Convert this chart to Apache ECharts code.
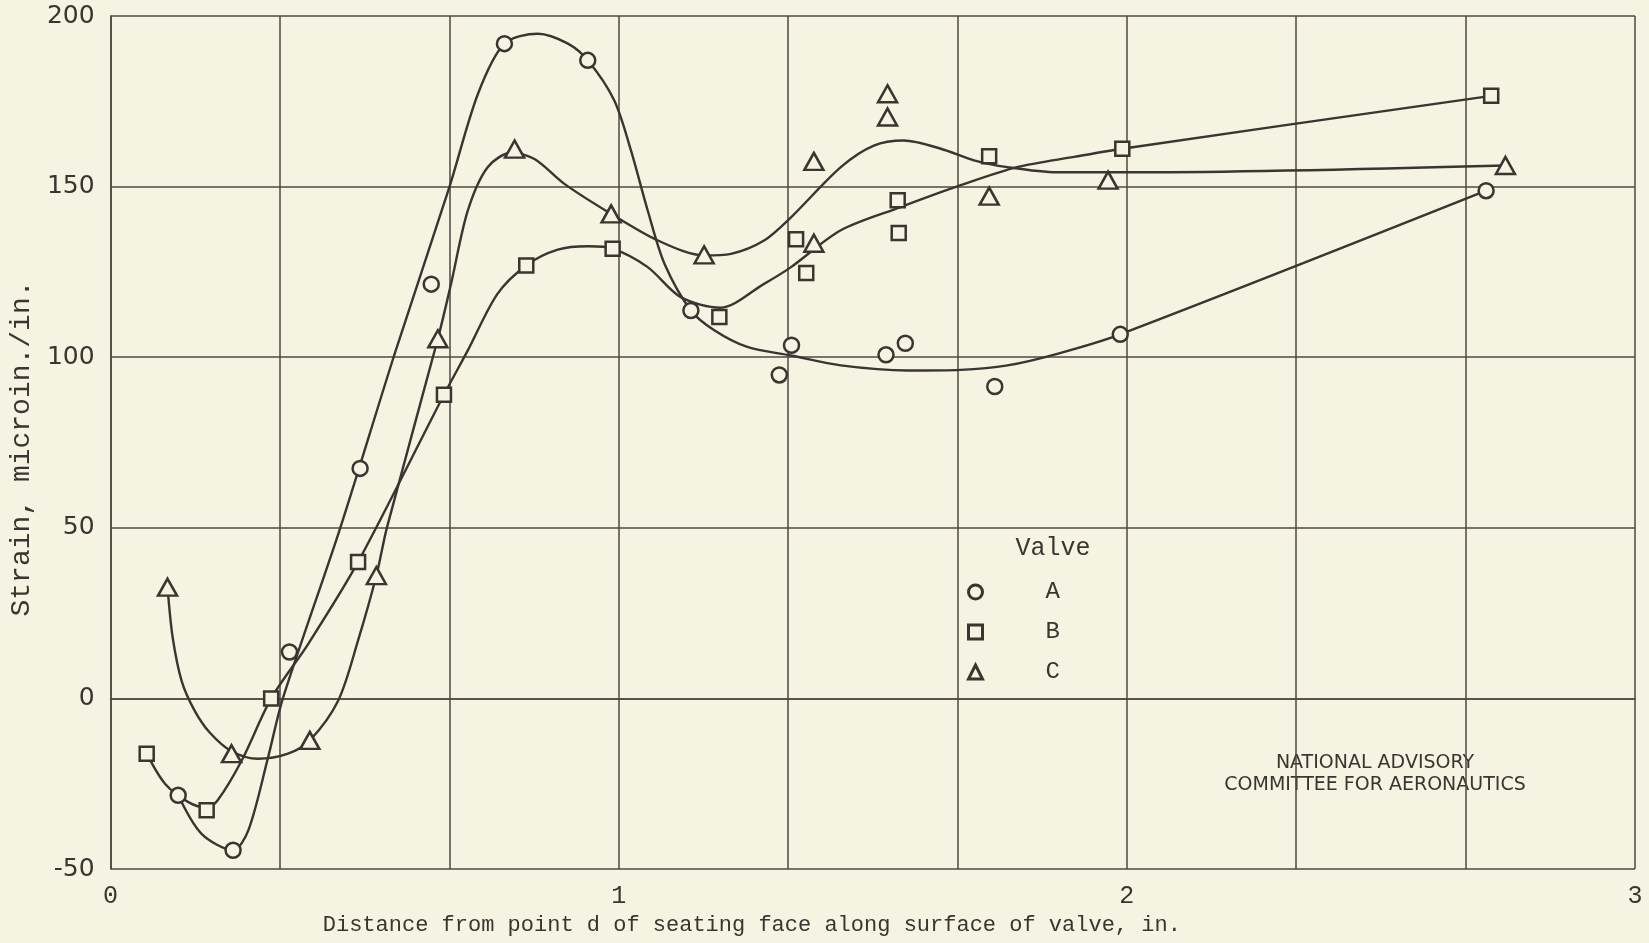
<!DOCTYPE html>
<html>
<head>
<meta charset="utf-8">
<script src="https://cdn.jsdelivr.net/npm/echarts@6/dist/echarts.min.js"></script>
<style>
html,body{margin:0;padding:0;background:#f5f3e2;}
#chart{width:1649px;height:943px;}
</style>
</head>
<body>
<div id="chart"></div>
<script>
// ---- data ----
const xTicks = [0, 1, 2, 3];
const yTicks = [-50, 0, 50, 100, 150, 200];
const valveNames = ['A', 'B', 'C'];
const xTitle = 'Distance from point d of seating face along surface of valve, in.';
const yTitle = 'Strain, microin./in.';

// measured points [distance in., strain microin./in.]
const valveA = [[0.133,-28.4],[0.241,-44.5],[0.352,13.6],[0.491,67.4],[0.631,121.4],[0.775,191.9],[0.939,187.0],[1.142,113.7],[1.316,94.8],[1.340,103.5],[1.526,100.7],[1.564,104.1],[1.740,91.4],[1.987,106.7],[2.707,148.8]];
const valveB = [[0.071,-16.2],[0.189,-32.8],[0.316,0.0],[0.487,40.0],[0.656,89.0],[0.818,126.9],[0.988,131.8],[1.198,111.8],[1.349,134.6],[1.369,124.7],[1.549,146.0],[1.551,136.4],[1.729,158.9],[1.991,161.1],[2.717,176.6]];
const valveC = [[0.112,32.6],[0.238,-16.2],[0.392,-12.3],[0.523,36.0],[0.644,105.4],[0.795,161.0],[0.985,142.0],[1.168,130.0],[1.384,157.4],[1.384,133.4],[1.529,177.2],[1.529,170.4],[1.729,147.2],[1.963,151.9],[2.745,156.2]];

// faired curves
const curveA = [[0.133,-28.4],[0.179,-39.7],[0.241,-44.5],[0.271,-38.7],[0.31,-17.2],[0.339,0],[0.452,50],[0.558,100.5],[0.667,150],[0.723,177.2],[0.775,191.9],[0.841,194.8],[0.9,191.9],[0.939,187],[0.991,175.3],[1.024,160.6],[1.057,143],[1.09,127.4],[1.142,113.7],[1.188,107.9],[1.253,103],[1.339,100.5],[1.437,97.6],[1.568,96.1],[1.673,96.3],[1.765,97.6],[1.863,101],[1.987,106.7],[2.707,148.8]];
const curveB = [[0.071,-16.2],[0.107,-25],[0.153,-30.4],[0.189,-32],[0.21,-30],[0.258,-18.2],[0.316,0],[0.389,16],[0.487,40],[0.656,89],[0.703,102],[0.761,118.5],[0.818,126.9],[0.88,131.5],[0.94,132.5],[0.988,131.8],[1.057,126.4],[1.122,117.6],[1.2,114.5],[1.286,121.5],[1.339,126.4],[1.437,137.2],[1.555,144],[1.673,150.4],[1.784,155.7],[1.896,158.7],[1.991,161.1],[2.717,176.6]];
const curveC = [[0.112,32.6],[0.122,18],[0.14,5],[0.165,-3.5],[0.195,-10],[0.238,-15.5],[0.29,-17.7],[0.349,-16.2],[0.392,-12.3],[0.448,-0.6],[0.487,17],[0.523,36],[0.544,50.2],[0.644,105.4],[0.67,121.5],[0.703,143],[0.742,155.7],[0.79,160],[0.835,158],[0.893,150.8],[0.985,142],[1.077,134.2],[1.168,129.8],[1.221,130.3],[1.286,134.2],[1.339,141],[1.437,155.7],[1.502,162],[1.561,163.5],[1.634,161.1],[1.699,157.7],[1.765,155.7],[1.863,154.2],[2.027,154.2],[2.745,156.2]];

// ---- styling ----
const INK = '#3b3430';
const GRIDINK = '#4f4843';
const PAPER = '#f5f3e2';
const MONO = '"Liberation Mono", "DejaVu Sans Mono", monospace';
const SANS = '"DejaVu Sans", "Liberation Sans", sans-serif';

const points = [valveA, valveB, valveC];
const curves = [curveA, curveB, curveC];
const symbols = ['circle', 'rect', 'triangle'];
const sizes = [15, 14, [19, 17]];

const series = [];
curves.forEach((c, i) => {
  series.push({
    name: valveNames[i] + ' curve',
    type: 'line',
    data: c,
    smooth: 0.3,
    symbol: 'none',
    silent: true,
    z: 2,
    lineStyle: { color: INK, width: 2.4 }
  });
});
points.forEach((p, i) => {
  series.push({
    name: valveNames[i],
    type: 'scatter',
    data: p,
    symbol: symbols[i],
    symbolSize: sizes[i],
    z: 3,
    itemStyle: { color: PAPER, borderColor: INK, borderWidth: 2.5, opacity: 1 }
  });
});

const chart = echarts.init(document.getElementById('chart'), null, { renderer: 'canvas' });
chart.setOption({
  backgroundColor: PAPER,
  animation: false,
  grid: { left: 109, right: 14, top: 16, bottom: 74, containLabel: false },
  xAxis: {
    type: 'value',
    min: xTicks[0],
    max: xTicks[xTicks.length - 1],
    interval: 1,
    name: xTitle,
    nameLocation: 'middle',
    nameGap: 43,
    nameTextStyle: { fontFamily: MONO, fontSize: 22, color: INK, padding: [0, 242, 0, 0] },
    axisLine: { show: true, lineStyle: { color: GRIDINK, width: 1.6 } },
    axisTick: { show: false },
    axisLabel: { margin: 15, fontFamily: MONO, fontSize: 25, color: INK,
      formatter: v => String(Math.round(v)) },
    splitLine: { show: true, lineStyle: { color: GRIDINK, width: 1.5 } },
    minorTick: { show: false, splitNumber: 3 },
    minorSplitLine: { show: true, lineStyle: { color: GRIDINK, width: 1.5 } }
  },
  yAxis: {
    type: 'value',
    min: yTicks[0],
    max: yTicks[yTicks.length - 1],
    interval: yTicks[1] - yTicks[0],
    name: yTitle,
    nameLocation: 'middle',
    nameGap: 70,
    nameTextStyle: { fontFamily: MONO, fontSize: 28, color: INK, padding: [0, 12, 0, 0] },
    axisLine: { show: true, lineStyle: { color: GRIDINK, width: 1.6 } },
    axisTick: { show: false },
    axisLabel: { margin: 16, fontFamily: SANS, fontSize: 25, color: INK },
    splitLine: { show: true, lineStyle: { color: GRIDINK, width: 1.5 } }
  },
  legend: {
    orient: 'vertical',
    left: 962,
    top: 575,
    itemWidth: 14,
    itemHeight: 14,
    itemGap: 16,
    data: valveNames.map((n, i) => ({ name: n, icon: symbols[i] })),
    itemStyle: { color: PAPER, borderColor: INK, borderWidth: 3 },
    textStyle: { fontFamily: MONO, fontSize: 24, color: INK, lineHeight: 14, padding: [0, 0, 0, 58] },
    selectedMode: false
  },
  graphic: [
    { type: 'text', x: 1053, y: 548, silent: true,
      style: { text: 'Valve', fontFamily: MONO, fontSize: 25, fill: INK, align: 'center', verticalAlign: 'middle' } },
    { type: 'text', x: 1375, y: 774, silent: true,
      style: { text: 'NATIONAL ADVISORY\nCOMMITTEE FOR AERONAUTICS', fontFamily: SANS, fontSize: 19, lineHeight: 22,
        fill: INK, align: 'center', verticalAlign: 'middle' } }
  ],
  series: series
});
</script>
</body>
</html>
